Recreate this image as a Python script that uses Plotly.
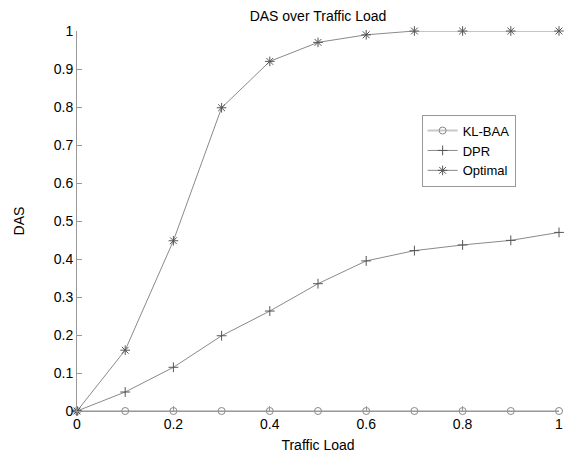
import plotly.graph_objects as go

traffic_load = [0, 0.1, 0.2, 0.3, 0.4, 0.5, 0.6, 0.7, 0.8, 0.9, 1.0]
kl_baa = [0, 0, 0, 0, 0, 0, 0, 0, 0, 0, 0]
dpr = [0, 0.05, 0.115, 0.198, 0.263, 0.335, 0.395, 0.422, 0.437, 0.449, 0.470]
optimal = [0, 0.16, 0.448, 0.798, 0.92, 0.97, 0.99, 1.0, 1.0, 1.0, 1.0]

x_ticks = [0, 0.2, 0.4, 0.6, 0.8, 1]
y_ticks = [0, 0.1, 0.2, 0.3, 0.4, 0.5, 0.6, 0.7, 0.8, 0.9, 1]

fig = go.Figure()
fig.add_trace(go.Scatter(x=traffic_load, y=kl_baa, name="KL-BAA", mode="lines+markers",
                         cliponaxis=False,
                         line=dict(color="#c8c8c8", width=2),
                         marker=dict(symbol="circle-open", size=7, color="#888888", line=dict(width=1))))
fig.add_trace(go.Scatter(x=traffic_load, y=dpr, name="DPR", mode="lines+markers",
                         cliponaxis=False,
                         line=dict(color="#8a8a8a", width=1),
                         marker=dict(symbol="cross-thin-open", size=7, color="#555555", line=dict(width=1))))
fig.add_trace(go.Scatter(x=traffic_load, y=optimal, name="Optimal", mode="lines+markers",
                         cliponaxis=False,
                         line=dict(color="#8a8a8a", width=1),
                         marker=dict(symbol="asterisk-open", size=8, color="#555555", line=dict(width=1))))

font_family = "Liberation Sans, Arial, sans-serif"
fig.update_layout(
    width=567, height=453,
    margin=dict(l=77, r=8, t=31, b=42),
    plot_bgcolor="white", paper_bgcolor="white",
    font=dict(family=font_family, size=14, color="black"),
    title=dict(text="DAS over Traffic Load", x=(77 + 559) / 2 / 567, xanchor="center",
               y=1 - 16 / 453, yanchor="middle", font=dict(size=14, family=font_family)),
    showlegend=True,
    legend=dict(x=0.715, y=0.78, xanchor="left", yanchor="top",
                bordercolor="#999999", borderwidth=1, bgcolor="white",
                font=dict(size=13), tracegroupgap=0, itemwidth=30),
)
fig.update_xaxes(range=[0, 1], tickvals=x_ticks, ticktext=[str(v) for v in x_ticks],
                 automargin=False,
                 showline=True, linecolor="#999999", linewidth=1, mirror=False,
                 ticks="inside", ticklen=5, tickcolor="#999999", showgrid=False, zeroline=False,
                 title=dict(text="Traffic Load", standoff=9, font=dict(size=14)))
fig.update_yaxes(range=[0, 1], tickvals=y_ticks, ticktext=[f"{v:g}" for v in y_ticks],
                 automargin=False,
                 showline=True, linecolor="#999999", linewidth=1, mirror=False,
                 ticks="inside", ticklen=5, tickcolor="#999999", showgrid=False, zeroline=False,
                 title=dict(text="DAS", standoff=25, font=dict(size=14)))

fig.write_html("out.html", config={"displayModeBar": False},
               post_script="document.body.style.margin='0';document.body.style.overflow='hidden';")
